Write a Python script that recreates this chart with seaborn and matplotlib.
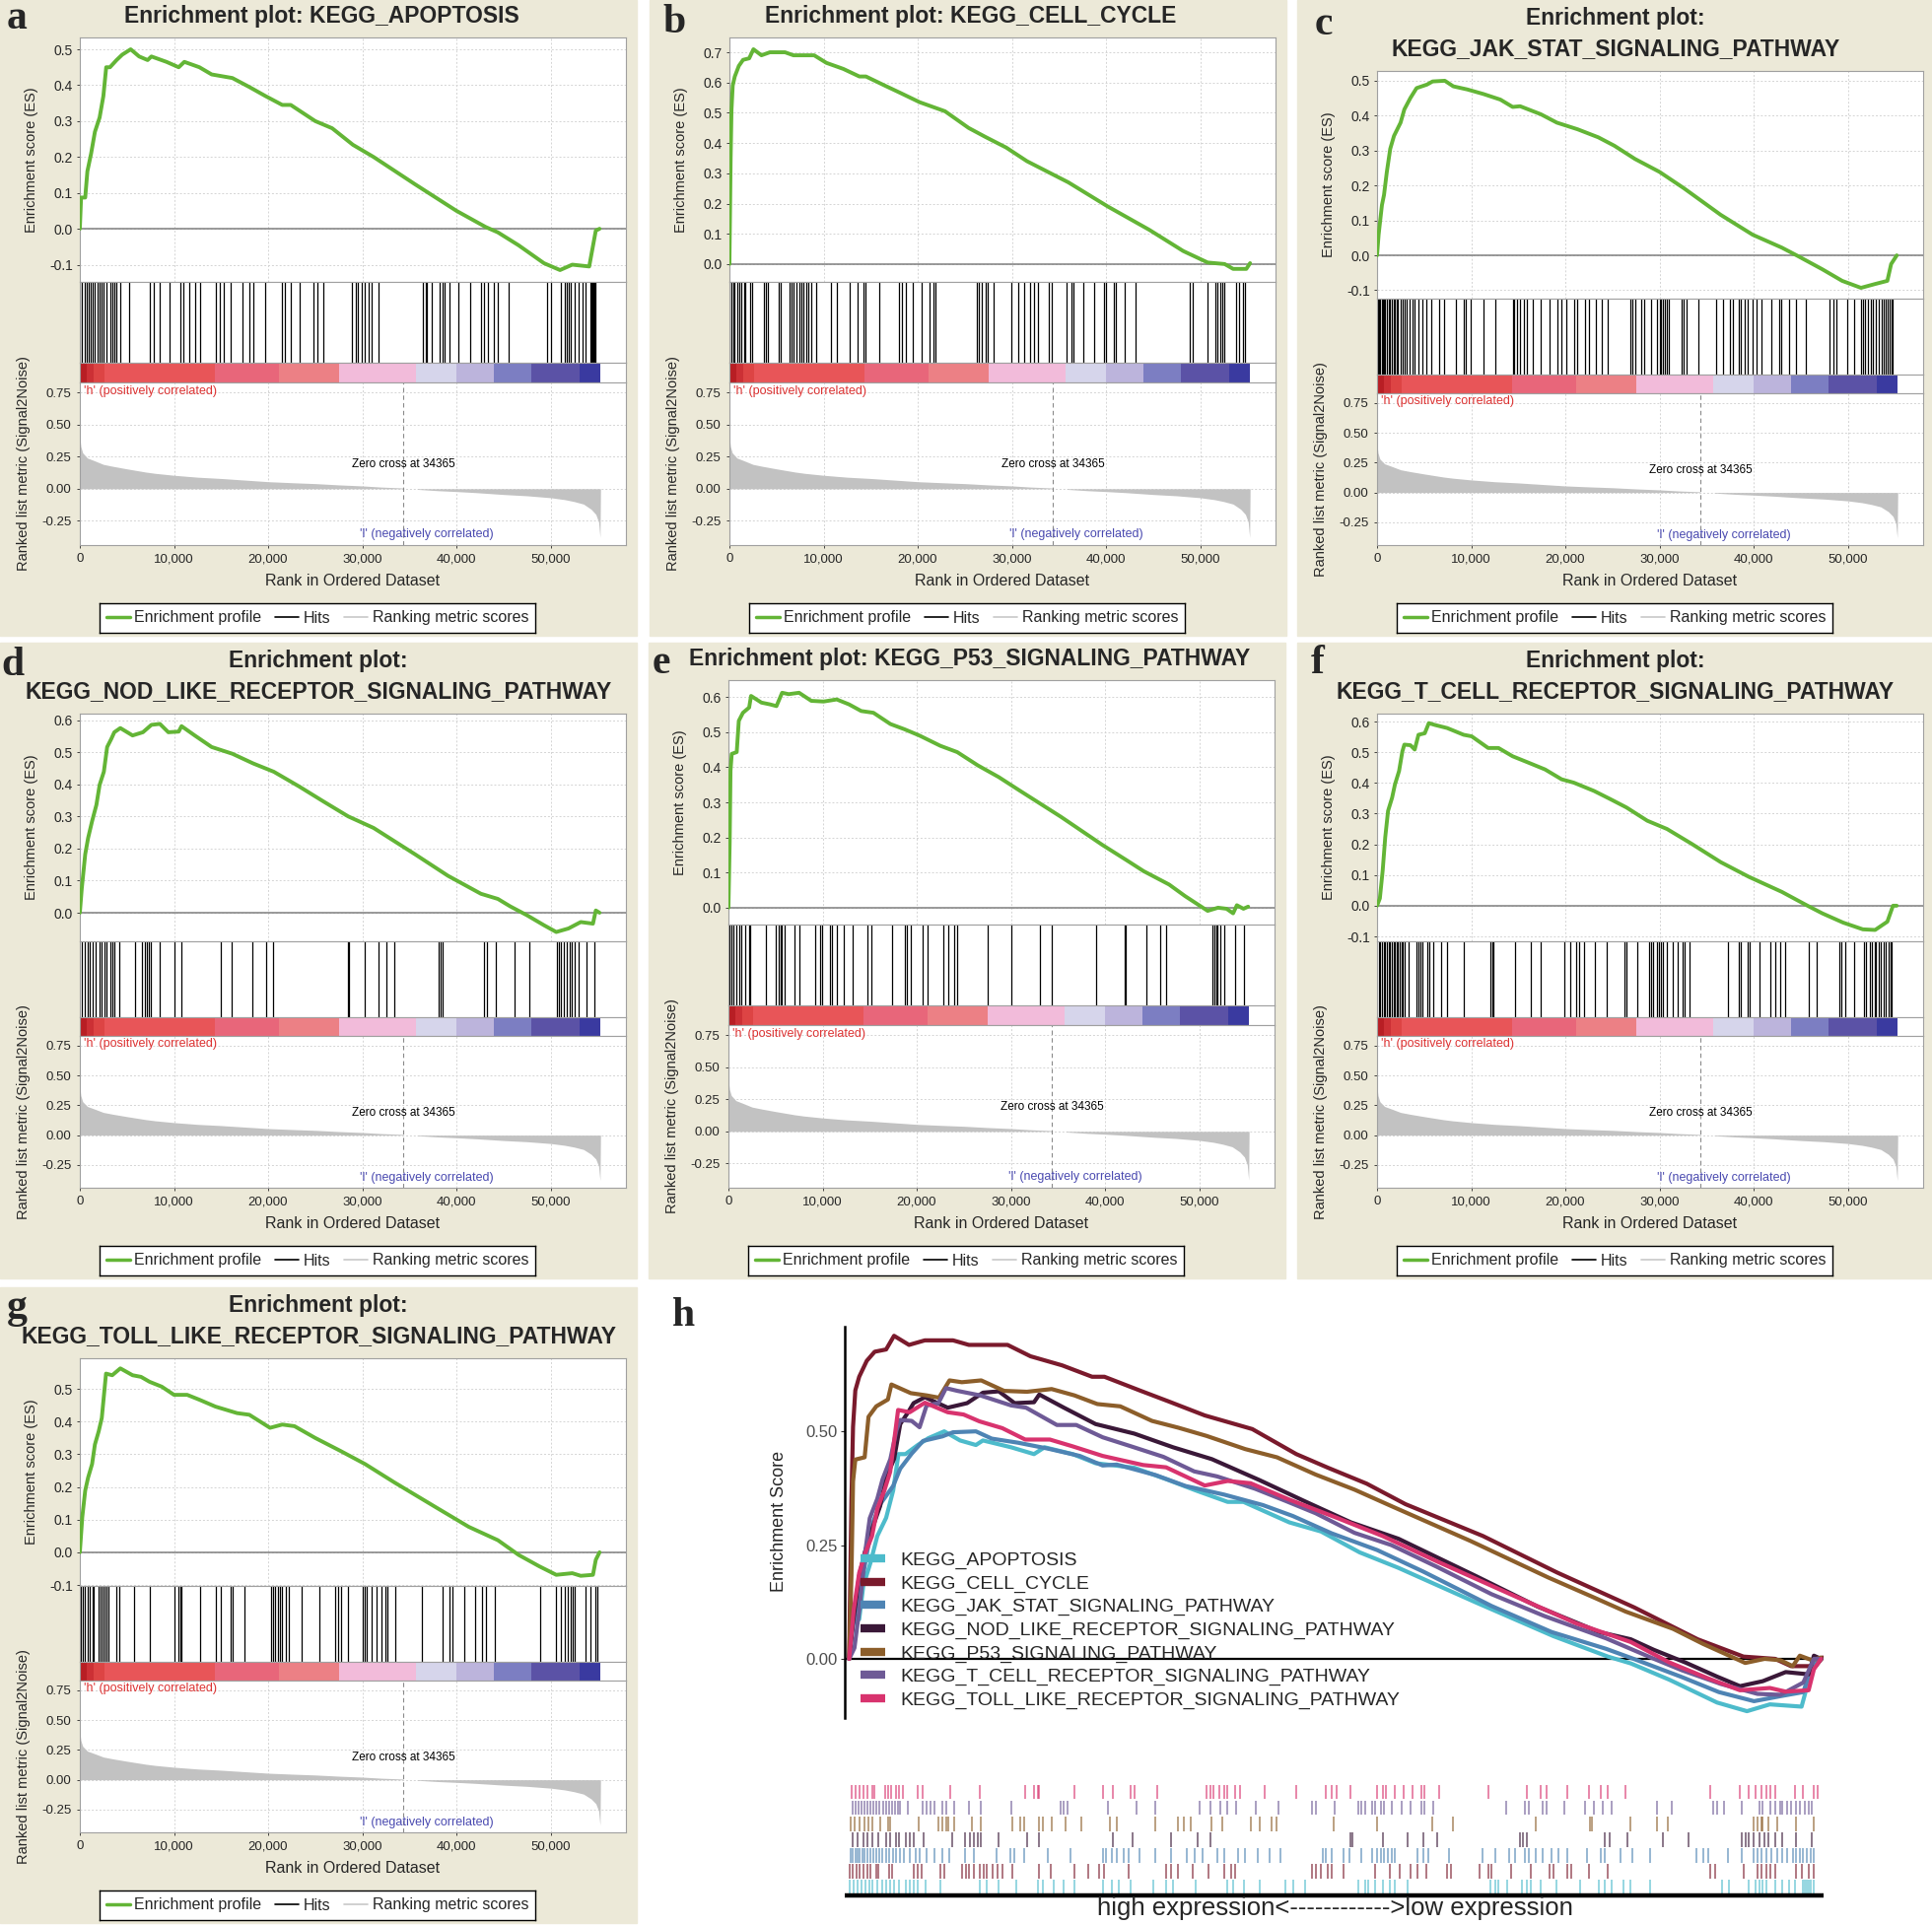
import pandas as pd
import seaborn as sns
import matplotlib.pyplot as plt
from matplotlib.lines import Line2D
from matplotlib.patches import Rectangle
from matplotlib.ticker import FuncFormatter

# ---- data (ranks in thousands) ----
PATHWAYS = [
    "KEGG_APOPTOSIS", "KEGG_CELL_CYCLE", "KEGG_JAK_STAT_SIGNALING_PATHWAY",
    "KEGG_NOD_LIKE_RECEPTOR_SIGNALING_PATHWAY", "KEGG_P53_SIGNALING_PATHWAY",
    "KEGG_T_CELL_RECEPTOR_SIGNALING_PATHWAY", "KEGG_TOLL_LIKE_RECEPTOR_SIGNALING_PATHWAY",
]

APOPTOSIS_X = [0, 0.13, 0.57, 0.8, 1.2, 1.6, 2.1, 2.5, 2.8, 3.2, 3.9, 4.5, 5.4, 6.3, 7.2, 7.6, 9.2, 10.5, 11.1, 12.7,
               14.0, 16.2, 18.0, 19.7, 21.5, 22.4, 25.0, 26.8, 29.0, 31.2, 35.6, 40.0, 43.1, 44.4, 46.6, 49.3, 51.0,
               52.3, 54.1, 54.8, 55.2]
APOPTOSIS_ES = [0, 0.087, 0.087, 0.16, 0.21, 0.27, 0.31, 0.37, 0.45, 0.45, 0.47, 0.485, 0.50, 0.48, 0.47, 0.48, 0.465,
                0.45, 0.465, 0.45, 0.43, 0.42, 0.395, 0.37, 0.345, 0.345, 0.30, 0.28, 0.234, 0.20, 0.124, 0.05, 0.005,
                -0.01, -0.046, -0.096, -0.115, -0.10, -0.105, -0.005, 0.0]
APOPTOSIS_HITS = [0.04, 0.26, 0.48, 0.7, 0.93, 1.15, 1.32, 1.59, 1.89, 2.11, 2.33, 2.56, 2.82, 3.22, 3.44, 3.66, 3.88,
                  4.32, 5.2, 7.4, 7.84, 8.5, 9.5, 10.7, 11.0, 11.6, 12.2, 12.8, 14.4, 14.9, 15.3, 16.0, 17.3, 18.0,
                  18.4, 19.7, 21.5, 21.8, 22.4, 23.3, 24.8, 25.2, 25.9, 28.9, 29.3, 29.5, 29.9, 30.3, 30.7, 31.0,
                  31.7, 36.4, 36.7, 36.9, 37.4, 38.2, 38.5, 38.7, 39.3, 40.2, 41.5, 42.6, 42.9, 43.3, 44.0, 44.4,
                  45.5, 49.6, 50.0, 51.1, 51.5, 51.7, 51.9, 52.1, 52.6, 53.0, 53.4, 53.7, 54.2, 54.3, 54.4, 54.5,
                  54.6, 54.8]

CELL_CYCLE_X = [0, 0.13, 0.22, 0.35, 0.57, 1.0, 1.45, 2.1, 2.55, 3.4, 4.3, 5.9, 6.8, 9.0, 10.3, 12.1, 13.8, 14.5,
                16.5, 18.2, 20.2, 22.9, 25.4, 27.2, 29.4, 31.6, 36.0, 40.2, 44.6, 48.2, 50.8, 52.6, 53.5, 54.9, 55.3]
CELL_CYCLE_ES = [0, 0.35, 0.51, 0.59, 0.62, 0.655, 0.675, 0.68, 0.71, 0.69, 0.70, 0.70, 0.69, 0.69, 0.665, 0.645,
                 0.62, 0.62, 0.59, 0.565, 0.535, 0.505, 0.45, 0.42, 0.385, 0.34, 0.27, 0.19, 0.113, 0.043, 0.005,
                 0.0, -0.016, -0.016, 0.003]
CELL_CYCLE_HITS = [0.04, 0.22, 0.4, 0.57, 0.79, 1.01, 1.23, 1.54, 1.67, 2.25, 2.42, 3.66, 3.88, 4.1, 5.2, 5.42, 6.43,
                   6.61, 6.83, 7.09, 7.4, 7.62, 7.84, 8.15, 8.41, 8.72, 9.25, 10.8, 11.45, 12.8, 13.6, 14.2, 14.45,
                   15.9, 18.0, 18.3, 18.7, 19.5, 20.4, 21.3, 21.7, 21.9, 26.3, 26.5, 26.8, 27.2, 27.4, 28.1, 29.9,
                   30.7, 31.3, 31.9, 32.3, 32.8, 33.96, 34.2, 35.8, 36.3, 36.5, 37.6, 38.7, 39.8, 40.0, 40.8, 41.0,
                   42.0, 43.1, 48.9, 49.2, 50.8, 51.6, 51.8, 52.1, 52.3, 52.6, 53.8, 54.1, 54.5, 54.8]

JAK_STAT_X = [0, 0.17, 0.52, 0.74, 1.04, 1.4, 1.8, 2.5, 2.9, 3.55, 4.2, 5.3, 5.9, 7.2, 8.1, 9.6, 11.3, 13.1, 14.4,
              15.2, 17.4, 19.1, 21.3, 23.5, 25.2, 27.4, 30.0, 32.6, 36.5, 39.9, 43.0, 44.7, 47.3, 49.4, 51.4, 52.9,
              54.2, 54.6, 55.2]
JAK_STAT_ES = [0, 0.06, 0.144, 0.173, 0.239, 0.305, 0.342, 0.38, 0.418, 0.451, 0.479, 0.489, 0.498, 0.5, 0.484,
               0.475, 0.462, 0.446, 0.425, 0.427, 0.404, 0.38, 0.361, 0.338, 0.314, 0.276, 0.239, 0.192, 0.116,
               0.059, 0.022, -0.002, -0.04, -0.073, -0.093, -0.082, -0.073, -0.025, 0.0]
JAK_STAT_HITS = [0.09, 0.22, 0.35, 0.48, 0.61, 0.74, 0.87, 1.04, 1.21, 1.39, 1.56, 1.73, 1.9, 2.08, 2.25, 2.47, 2.68,
                 2.9, 3.12, 3.46, 3.77, 3.98, 4.42, 4.85, 5.28, 5.71, 6.58, 7.1, 8.4, 9.18, 9.39, 9.96, 11.3, 12.6,
                 14.4, 14.6, 14.9, 15.2, 15.6, 15.9, 16.5, 17.4, 18.3, 19.2, 19.6, 20.1, 20.9, 21.3, 22.1, 22.5, 23.2,
                 23.9, 24.5, 26.9, 27.1, 27.4, 28.1, 28.4, 29.1, 29.7, 30.0, 30.2, 30.4, 30.6, 30.8, 31.0, 32.3, 32.6,
                 32.9, 34.1, 36.0, 36.7, 37.5, 37.8, 38.4, 38.6, 39.0, 39.4, 39.9, 40.3, 40.8, 41.9, 42.7, 42.9, 43.8,
                 44.5, 45.5, 48.1, 48.5, 48.8, 49.9, 50.7, 51.4, 51.6, 51.8, 52.1, 52.4, 52.7, 53.0, 53.3, 53.6, 53.8,
                 54.0, 54.2, 54.4, 54.6, 54.8]

NOD_X = [0, 0.2, 0.57, 0.88, 1.3, 1.76, 2.1, 2.55, 2.9, 3.35, 3.66, 4.3, 5.6, 6.7, 7.6, 8.5, 9.4, 10.5, 10.8, 12.2,
         14.0, 16.2, 18.4, 20.6, 23.3, 25.9, 28.5, 31.2, 35.6, 39.1, 42.6, 44.4, 45.7, 47.5, 49.3, 50.6, 51.9, 53.2,
         54.5, 54.8, 55.2]
NOD_ES = [0, 0.074, 0.182, 0.233, 0.285, 0.336, 0.398, 0.439, 0.516, 0.542, 0.562, 0.575, 0.552, 0.562, 0.585,
          0.588, 0.562, 0.564, 0.581, 0.552, 0.516, 0.495, 0.465, 0.439, 0.393, 0.346, 0.3, 0.264, 0.182, 0.115,
          0.059, 0.043, 0.02, -0.008, -0.039, -0.06, -0.049, -0.029, -0.034, 0.007, 0.0]
NOD_HITS = [0.22, 0.48, 0.79, 1.01, 1.32, 1.67, 2.11, 2.33, 2.64, 2.82, 3.22, 3.44, 3.66, 4.23, 5.86, 6.6, 6.87, 7.09,
            7.31, 7.49, 8.5, 10.1, 10.8, 15.0, 16.1, 18.3, 19.8, 20.5, 28.5, 28.6, 30.3, 31.7, 32.6, 33.4, 38.1,
            38.3, 38.5, 42.9, 43.2, 44.2, 46.2, 47.7, 50.7, 50.9, 51.1, 51.4, 51.7, 52.0, 52.2, 52.6, 53.0, 53.8,
            54.7]

P53_X = [0, 0.13, 0.22, 0.35, 0.88, 1.1, 1.54, 2.2, 2.4, 3.5, 4.4, 5.1, 5.7, 6.4, 7.5, 8.8, 10.1, 11.5, 12.8, 14.1,
         15.4, 17.2, 18.7, 20.3, 22.5, 24.3, 26.5, 28.7, 30.9, 35.3, 39.7, 42.3, 44.1, 46.8, 48.5, 50.9, 52.0, 52.9,
         53.6, 54.0, 54.7, 55.2]
P53_ES = [0, 0.184, 0.39, 0.438, 0.443, 0.532, 0.555, 0.57, 0.603, 0.584, 0.579, 0.574, 0.612, 0.608, 0.612, 0.589,
          0.587, 0.593, 0.579, 0.56, 0.555, 0.523, 0.508, 0.49, 0.461, 0.443, 0.405, 0.372, 0.334, 0.259, 0.179,
          0.135, 0.104, 0.066, 0.033, -0.009, 0.0, -0.003, -0.016, 0.007, -0.003, 0.003]
P53_HITS = [0.09, 0.31, 0.57, 0.88, 1.1, 1.32, 1.76, 2.2, 2.34, 3.97, 5.07, 5.29, 5.51, 5.64, 5.95, 6.97, 7.5, 9.26,
            9.7, 9.92, 10.8, 11.0, 11.5, 12.3, 13.2, 14.8, 15.2, 17.4, 18.7, 19.0, 19.4, 20.6, 21.2, 22.8, 23.3,
            24.0, 24.3, 27.5, 30.0, 33.1, 34.3, 39.0, 42.1, 42.2, 44.4, 45.9, 46.5, 51.4, 51.6, 51.8, 51.9, 52.2,
            52.7, 53.8, 54.8]

TCELL_X = [0, 0.3, 0.6, 0.87, 1.17, 1.6, 1.9, 2.34, 2.69, 2.9, 3.55, 4.0, 4.4, 5.07, 5.5, 6.15, 7.45, 9.2, 10.05,
           11.8, 12.9, 14.4, 16.1, 17.85, 19.6, 20.9, 23.05, 24.8, 26.5, 28.7, 30.8, 33.4, 36.5, 39.5, 43.0, 45.6,
           47.3, 49.5, 51.6, 52.9, 54.2, 54.8, 55.2]
TCELL_ES = [0, 0.024, 0.115, 0.223, 0.309, 0.352, 0.395, 0.439, 0.503, 0.525, 0.523, 0.509, 0.557, 0.562, 0.595,
            0.589, 0.579, 0.557, 0.552, 0.514, 0.514, 0.487, 0.466, 0.444, 0.412, 0.401, 0.374, 0.347, 0.32, 0.277,
            0.25, 0.202, 0.142, 0.094, 0.045, 0.002, -0.025, -0.055, -0.077, -0.079, -0.052, 0.0, 0.0]
TCELL_HITS = [0.17, 0.35, 0.52, 0.69, 0.87, 1.04, 1.21, 1.39, 1.56, 1.73, 1.91, 2.08, 2.25, 2.43, 2.6, 2.77, 2.9,
              3.34, 4.2, 4.42, 4.64, 4.85, 5.29, 5.5, 5.94, 6.8, 7.45, 9.19, 12.0, 12.2, 12.4, 14.7, 16.3, 17.4,
              19.9, 20.5, 21.1, 21.5, 22.0, 23.1, 24.4, 26.3, 26.5, 27.6, 28.9, 29.1, 29.3, 29.7, 29.9, 30.2, 30.4,
              30.8, 31.4, 31.9, 32.5, 32.7, 33.2, 37.3, 38.4, 38.6, 39.4, 39.6, 40.6, 41.8, 42.3, 42.8, 43.3, 45.9,
              46.7, 49.1, 49.3, 49.7, 50.7, 51.7, 51.9, 52.3, 52.6, 52.9, 53.0, 53.3, 53.5, 53.8, 54.0, 54.3, 54.5,
              54.7]

TOLL_X = [0, 0.26, 0.57, 0.88, 1.3, 1.6, 2.0, 2.33, 2.78, 3.44, 4.3, 5.6, 6.5, 7.4, 8.7, 10.0, 11.4, 12.7, 14.4,
          16.7, 18.0, 20.2, 21.5, 22.8, 25.0, 27.7, 30.3, 33.4, 37.8, 41.3, 44.4, 46.6, 48.8, 50.6, 52.3, 53.2, 54.5,
          54.8, 55.2]
TOLL_ES = [0, 0.108, 0.189, 0.229, 0.27, 0.33, 0.37, 0.411, 0.547, 0.542, 0.563, 0.542, 0.537, 0.522, 0.507, 0.482,
           0.482, 0.467, 0.446, 0.426, 0.421, 0.381, 0.391, 0.386, 0.35, 0.31, 0.27, 0.214, 0.138, 0.078, 0.037,
           -0.008, -0.043, -0.069, -0.064, -0.072, -0.069, -0.023, 0.0]
TOLL_HITS = [0.13, 0.35, 0.57, 0.79, 1.01, 1.32, 1.45, 2.03, 2.2, 2.38, 2.64, 2.82, 3.08, 3.88, 4.19, 5.73, 7.4,
             10.0, 10.5, 10.7, 10.8, 12.8, 14.4, 15.0, 16.0, 16.2, 17.5, 20.3, 20.5, 20.7, 21.0, 21.3, 21.5, 21.9,
             22.2, 23.6, 25.4, 27.1, 27.4, 27.7, 28.5, 30.0, 30.3, 30.5, 31.0, 31.5, 32.0, 32.5, 32.7, 33.5, 36.3,
             38.5, 39.3, 39.6, 40.8, 42.0, 42.7, 43.1, 44.1, 48.9, 50.6, 51.1, 51.5, 51.8, 52.1, 52.3, 52.6, 53.7,
             54.2, 54.8, 55.0]

# ranked list metric (shared by all panels)
METRIC_X = [0, 0.1, 0.3, 0.8, 1.5, 2.5, 3.5, 5, 7, 8, 10, 12.5, 15, 18, 20, 22.5, 25, 27.5, 30, 32, 34.3, 34.4,
            35.8, 35.9, 38, 40, 42, 45, 47.5, 50, 51.5, 52.5, 53.5, 54.3, 54.8, 55.1, 55.25, 55.3]
METRIC_VAL = [0.40, 0.33, 0.28, 0.24, 0.22, 0.19, 0.175, 0.155, 0.13, 0.12, 0.105, 0.09, 0.08, 0.065, 0.055, 0.047,
              0.04, 0.03, 0.022, 0.013, 0.006, 0, 0, -0.005, -0.015, -0.022, -0.03, -0.045, -0.055, -0.07, -0.085,
              -0.1, -0.12, -0.16, -0.2, -0.26, -0.38, 0]
ZERO_CROSS = 34.365

# heat bar under the hits
CBAR_EDGES = [0, 0.7, 1.5, 2.6, 14.3, 21.1, 27.5, 35.7, 40.0, 44.0, 47.9, 53.1, 55.25]
CBAR_COLORS = ["#B81E24", "#CC3035", "#DD4444", "#E85558", "#E8667A", "#EC8085", "#F2BBDA", "#D6D5EB",
               "#BCB4DC", "#7C7EC2", "#5B52A6", "#3A3AA0"]

ES_X = dict(zip(PATHWAYS, [APOPTOSIS_X, CELL_CYCLE_X, JAK_STAT_X, NOD_X, P53_X, TCELL_X, TOLL_X]))
ES_Y = dict(zip(PATHWAYS, [APOPTOSIS_ES, CELL_CYCLE_ES, JAK_STAT_ES, NOD_ES, P53_ES, TCELL_ES, TOLL_ES]))
HITS = dict(zip(PATHWAYS, [APOPTOSIS_HITS, CELL_CYCLE_HITS, JAK_STAT_HITS, NOD_HITS, P53_HITS, TCELL_HITS, TOLL_HITS]))

# ---- style ----
W, H = 1960, 1953
BEIGE = "#ECE9D8"
GREEN = "#63B536"
H_COLORS = dict(zip(PATHWAYS, ["#4DBBCB", "#7A1A2C", "#4E84B4", "#3A1838", "#8C5E2A", "#6E5A96", "#D8336E"]))

PANELS = {  # letter: (pathway, origin x, origin y, two-line title, ylim, yticks, label offset)
    "a": (0, 0, 0, False, (-0.148, 0.533), [-0.1, 0, 0.1, 0.2, 0.3, 0.4, 0.5], (7, 0)),
    "b": (1, 659, 0, False, (-0.059, 0.749), [0, 0.1, 0.2, 0.3, 0.4, 0.5, 0.6, 0.7], (13, 4)),
    "c": (2, 1316, 0, True, (-0.124, 0.528), [-0.1, 0, 0.1, 0.2, 0.3, 0.4, 0.5], (18, 6)),
    "d": (3, 0, 652, True, (-0.089, 0.62), [0, 0.1, 0.2, 0.3, 0.4, 0.5, 0.6], (1, 4)),
    "e": (4, 658, 652, False, (-0.048, 0.648), [0, 0.1, 0.2, 0.3, 0.4, 0.5, 0.6], (4, 2)),
    "f": (5, 1316, 652, True, (-0.116, 0.626), [-0.1, 0, 0.1, 0.2, 0.3, 0.4, 0.5, 0.6], (14, 2)),
    "g": (6, 0, 1306, True, (-0.103, 0.594), [-0.1, 0, 0.1, 0.2, 0.3, 0.4, 0.5], (7, 2)),
}

sns.set_style("white")
plt.rcParams["font.family"] = ["Liberation Sans", "DejaVu Sans"]
SERIF = ["Liberation Serif", "DejaVu Serif"]

fig = plt.figure(figsize=(W / 100, H / 100), dpi=100)
fig.patch.set_facecolor("white")


def fax(x0, y0, x1, y1):
    return fig.add_axes([x0 / W, 1 - y1 / H, (x1 - x0) / W, (y1 - y0) / H])


def ftext(x, y, s, **kw):
    return fig.text(x / W, 1 - y / H, s, **kw)


kfmt = FuncFormatter(lambda v, p: f"{int(round(v * 1000)):,}")
XMAX = 58.0
XT = [0, 10, 20, 30, 40, 50]


def frame(ax):
    for s in ax.spines.values():
        s.set_color("#A0A0A0")
        s.set_linewidth(0.8)


def draw_panel(letter):
    idx, ox, oy, two, ylim, yticks, lab = PANELS[letter]
    name = PATHWAYS[idx]
    pw = min(646, W - ox)
    fig.add_artist(Rectangle((ox / W, 1 - (oy + 645) / H), pw / W, 645 / H,
                             transform=fig.transFigure, color=BEIGE, zorder=-10))
    es_top, es_bot, hit_bot, bar_bot = (72, 303, 380, 399) if two else (38, 286, 368, 388)
    L, R, rb = ox + 81, ox + 635, oy + 553

    # enrichment profile
    ax = fax(L, oy + es_top, R, oy + es_bot)
    ax.set_xlim(0, XMAX)
    ax.set_ylim(*ylim)
    ax.set_xticks(XT)
    ax.set_yticks(yticks)
    ax.grid(True, color="#D4D4D4", ls=(0, (2, 2)), lw=0.7)
    ax.axhline(0, color="#7F7F7F", lw=1.1, zorder=2)
    sns.lineplot(x=ES_X[name], y=ES_Y[name], ax=ax, color=GREEN, lw=2.8, estimator=None, sort=False, zorder=3)
    ax.yaxis.set_major_formatter(FuncFormatter(lambda v, p: f"{v:.1f}"))
    ax.tick_params(axis="x", length=0, labelbottom=False)
    ax.tick_params(axis="y", length=2, width=0.6, pad=3, labelsize=10, left=True)
    frame(ax)

    # hits
    ax2 = fax(L, oy + es_bot, R, oy + hit_bot)
    ax2.vlines(HITS[name], 0, 1, color="black", lw=0.9)
    ax2.set_xlim(0, XMAX)
    ax2.set_ylim(0, 1)
    ax2.set_xticks([])
    ax2.set_yticks([])
    frame(ax2)

    # colour bar
    ax3 = fax(L, oy + hit_bot, R, oy + bar_bot)
    for i, c in enumerate(CBAR_COLORS):
        ax3.axvspan(CBAR_EDGES[i], CBAR_EDGES[i + 1], color=c, lw=0)
    ax3.set_xlim(0, XMAX)
    ax3.set_xticks([])
    ax3.set_yticks([])
    frame(ax3)

    # ranked list metric
    ax4 = fax(L, oy + bar_bot, R, rb)
    ax4.fill_between(METRIC_X, METRIC_VAL, 0, color="#C2C2C2", lw=0)
    ax4.axvline(ZERO_CROSS, color="#8A8A8A", lw=0.8, ls=(0, (4, 3)))
    ax4.set_xlim(0, XMAX)
    ax4.set_ylim(-0.44, 0.83)
    ax4.set_xticks(XT)
    ax4.set_yticks([-0.25, 0, 0.25, 0.5, 0.75])
    ax4.grid(True, color="#D4D4D4", ls=(0, (2, 2)), lw=0.7)
    ax4.xaxis.set_major_formatter(kfmt)
    ax4.yaxis.set_major_formatter(FuncFormatter(lambda v, p: f"{v:.2f}"))
    ax4.tick_params(axis="both", length=2, width=0.6, pad=4, labelsize=9.5, left=True, bottom=True)
    ax4.text(0.4, 0.76, "'h' (positively correlated)", color="#DD3333", fontsize=9, va="center")
    ax4.text(ZERO_CROSS, 0.19, "Zero cross at 34365", color="black", fontsize=8.5, ha="center", va="center")
    ax4.text(36.8, -0.357, "'l' (negatively correlated)", color="#4A4AB0", fontsize=9, ha="center", va="center")
    frame(ax4)

    # axis labels
    ftext(ox + 32, oy + (es_top + es_bot) / 2, "Enrichment score (ES)", rotation=90,
          ha="center", va="center", fontsize=10.5)
    ftext(ox + 24, oy + (bar_bot + 553) / 2, "Ranked list metric (Signal2Noise)", rotation=90,
          ha="center", va="center", fontsize=10.5)
    ftext(ox + 358, oy + 589, "Rank in Ordered Dataset", ha="center", va="center", fontsize=11.5)

    # titles
    if two:
        ftext(ox + 323, oy + 18, "Enrichment plot:", ha="center", va="center", fontsize=16.5, weight="bold")
        ftext(ox + 323, oy + 50, name, ha="center", va="center", fontsize=16.5, weight="bold")
    else:
        ftext(ox + 326, oy + 16, f"Enrichment plot: {name}", ha="center", va="center", fontsize=16.5,
              weight="bold")
    ftext(ox + lab[0], oy + lab[1], letter, ha="left", va="top", fontsize=30, weight="bold", family=SERIF)

    # legend box
    lax = fax(ox + 101, oy + 612, ox + 543, oy + 642)
    lax.set_xticks([])
    lax.set_yticks([])
    lax.set_facecolor("white")
    for s in lax.spines.values():
        s.set_color("black")
        s.set_linewidth(1.0)
    handles = [Line2D([], [], color=GREEN, lw=2.5), Line2D([], [], color="black", lw=1.2),
               Line2D([], [], color="#C8C8C8", lw=1.2)]
    lax.legend(handles, ["Enrichment profile", "Hits", "Ranking metric scores"], loc="center", ncol=3,
               frameon=False, fontsize=11.5, handlelength=1.5, handletextpad=0.3, columnspacing=0.85,
               borderpad=0, borderaxespad=0)


for letter in PANELS:
    draw_panel(letter)

# ---- panel h: overlay of all running ES curves ----
h_df = pd.concat([pd.DataFrame({"rank": ES_X[p], "es": ES_Y[p], "pathway": p}) for p in PATHWAYS],
                 ignore_index=True)

hax = fax(857, 1346, 1850, 1743)
sns.lineplot(data=h_df, x="rank", y="es", hue="pathway", hue_order=PATHWAYS, palette=H_COLORS, lw=3.0,
             estimator=None, sort=False, legend=False, ax=hax)
hax.axhline(0, color="black", lw=1.6, zorder=1)
hax.set_xlim(-0.25, 55.35)
hax.set_ylim(-0.13, 0.73)
hax.set_xticks([])
hax.set_yticks([0, 0.25, 0.5])
hax.yaxis.set_major_formatter(FuncFormatter(lambda v, p: f"{v:.2f}"))
hax.tick_params(axis="y", length=3, width=0.8, color="#333333", labelsize=12, labelcolor="#4D4D4D", left=True,
                pad=2)
hax.set_xlabel("")
hax.set_ylabel("")
for s in ["top", "right", "bottom"]:
    hax.spines[s].set_visible(False)
hax.spines["left"].set_color("black")
hax.spines["left"].set_linewidth(1.8)
hax.patch.set_alpha(0)
h_handles = [Line2D([], [], color=H_COLORS[p], lw=6, solid_capstyle="butt") for p in PATHWAYS]
leg = hax.legend(h_handles, PATHWAYS, loc="upper left", bbox_to_anchor=(0.016, 0.425), frameon=False,
                 fontsize=14, handlelength=1.3, handletextpad=0.8, labelspacing=0.3, borderpad=0,
                 borderaxespad=0)
leg.set_zorder(5)
ftext(790, 1543, "Enrichment Score", rotation=90, ha="center", va="center", fontsize=13)
ftext(682, 1316, "h", ha="left", va="top", fontsize=30, weight="bold", family=SERIF)

# hit bands, one row per pathway
bax = fax(857, 1810, 1850, 1926)
for i, p in enumerate(PATHWAYS):
    bax.vlines(HITS[p], i + 0.05, i + 0.95, color=H_COLORS[p], lw=1.1, alpha=0.75)
bax.axhline(0, color="black", lw=3.2)
bax.set_xlim(-0.25, 55.35)
bax.set_ylim(-0.2, 7)
bax.axis("off")
ftext(1354, 1936, "high expression<------------>low expression", ha="center", va="center", fontsize=18.5)

fig.savefig("out.png", dpi=100)
